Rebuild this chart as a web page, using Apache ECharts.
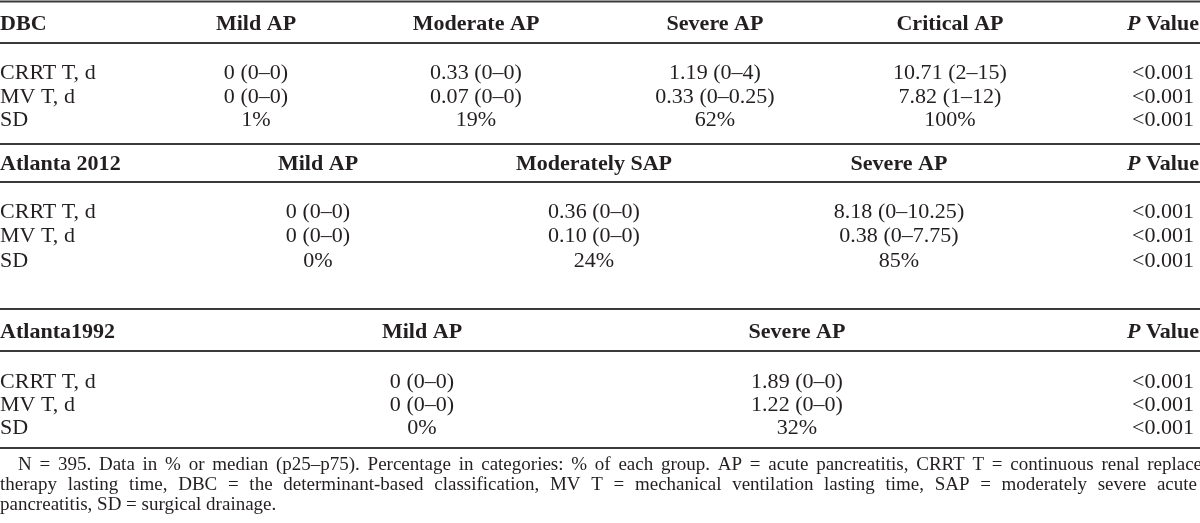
<!DOCTYPE html>
<html><head><meta charset="utf-8">
<script src="https://cdn.jsdelivr.net/npm/echarts@6/dist/echarts.min.js"></script>
<style>html,body{margin:0;padding:0;background:#fff}#c{width:1200px;height:523px}</style>
</head><body><div id="c"></div>
<script>
// ---------- DATA ----------
const dbcHeader = ['DBC', 'Mild AP', 'Moderate AP', 'Severe AP', 'Critical AP', 'P Value'];
const dbcCRRT = ['CRRT T, d', '0 (0–0)', '0.33 (0–0)', '1.19 (0–4)', '10.71 (2–15)', '<0.001'];
const dbcMV = ['MV T, d', '0 (0–0)', '0.07 (0–0)', '0.33 (0–0.25)', '7.82 (1–12)', '<0.001'];
const dbcSD = ['SD', '1%', '19%', '62%', '100%', '<0.001'];

const atl2012Header = ['Atlanta 2012', 'Mild AP', 'Moderately SAP', 'Severe AP', 'P Value'];
const atl2012CRRT = ['CRRT T, d', '0 (0–0)', '0.36 (0–0)', '8.18 (0–10.25)', '<0.001'];
const atl2012MV = ['MV T, d', '0 (0–0)', '0.10 (0–0)', '0.38 (0–7.75)', '<0.001'];
const atl2012SD = ['SD', '0%', '24%', '85%', '<0.001'];

const atl1992Header = ['Atlanta1992', 'Mild AP', 'Severe AP', 'P Value'];
const atl1992CRRT = ['CRRT T, d', '0 (0–0)', '1.89 (0–0)', '<0.001'];
const atl1992MV = ['MV T, d', '0 (0–0)', '1.22 (0–0)', '<0.001'];
const atl1992SD = ['SD', '0%', '32%', '<0.001'];

const footnoteLines = [
  'N = 395. Data in % or median (p25–p75). Percentage in categories: % of each group. AP = acute pancreatitis, CRRT T = continuous renal replace',
  'therapy lasting time, DBC = the determinant-based classification, MV T = mechanical ventilation lasting time, SAP = moderately severe acute',
  'pancreatitis, SD = surgical drainage.'
];

// ---------- LAYOUT (table geometry, in axis units = px) ----------
const W = 1200, H = 523;
const layout = {
  dbc: { cols: [0, 256, 476, 715, 950, 1163], headerY: 25, rowY: [73, 97, 120] },
  atl2012: { cols: [0, 318, 594, 899, 1163], headerY: 165, rowY: [212, 236, 261] },
  atl1992: { cols: [0, 422, 797, 1163], headerY: 333, rowY: [382, 405, 428] },
  rules: [1.5, 43, 144, 182, 309, 351, 448],
  foot: { y: [465, 485, 505], indent: 18, justify: [W + 2, W - 3, null] }
};
const FONT = '"Liberation Serif", "Times New Roman", serif';
const BODY = 21, FOOT = 19, BODY_SX = 1.05;
const TEXT_COLOR = '#231f20', RULE_COLOR = '#3a3a3a';

// ---------- BUILD CELLS ----------
const cells = [];
function addSection(header, rows, L) {
  header.forEach((t, i) => cells.push({ x: L.cols[i], y: L.headerY, text: t, bold: true, align: i === 0 ? 'left' : 'center', size: BODY, sx: BODY_SX }));
  rows.forEach((r, ri) => r.forEach((t, i) => cells.push({ x: L.cols[i], y: L.rowY[ri], text: t, bold: false, align: i === 0 ? 'left' : 'center', size: BODY, sx: BODY_SX })));
}
addSection(dbcHeader, [dbcCRRT, dbcMV, dbcSD], layout.dbc);
addSection(atl2012Header, [atl2012CRRT, atl2012MV, atl2012SD], layout.atl2012);
addSection(atl1992Header, [atl1992CRRT, atl1992MV, atl1992SD], layout.atl1992);

// footnote words, justified using measured widths
const mctx = document.createElement('canvas').getContext('2d');
mctx.font = FOOT + 'px ' + FONT;
footnoteLines.forEach((line, li) => {
  const x0 = li === 0 ? layout.foot.indent : 0;
  const y = layout.foot.y[li];
  const target = layout.foot.justify[li];
  if (!target) { cells.push({ x: x0, y, text: line, bold: false, align: 'left', size: FOOT, sx: 1 }); return; }
  const words = line.split(' ');
  const widths = words.map(w => mctx.measureText(w).width);
  const total = widths.reduce((a, b) => a + b, 0);
  const gap = (target - x0 - total) / (words.length - 1);
  let x = x0;
  words.forEach((w, i) => { cells.push({ x, y, text: w, bold: false, align: 'left', size: FOOT, sx: 1 }); x += widths[i] + gap; });
});

const rules = layout.rules.map(y => [0, y, W]);

// ---------- CHART ----------
const chart = echarts.init(document.getElementById('c'), null, { renderer: 'canvas' });
chart.setOption({
  animation: false,
  backgroundColor: '#fff',
  grid: { left: 0, right: 0, top: 0, bottom: 0 },
  xAxis: { type: 'value', min: 0, max: W, show: false },
  yAxis: { type: 'value', min: 0, max: H, inverse: true, show: false },
  series: [
    {
      type: 'custom', silent: true, clip: false,
      data: rules,
      renderItem: (params, api) => {
        const a = api.coord([api.value(0), api.value(1)]);
        const b = api.coord([api.value(2), api.value(1)]);
        return { type: 'line', shape: { x1: a[0], y1: a[1], x2: b[0], y2: b[1] }, style: { stroke: RULE_COLOR, lineWidth: 2 } };
      }
    },
    {
      type: 'custom', silent: true, clip: false,
      data: cells.map(c => [c.x, c.y]),
      renderItem: (params, api) => {
        const c = cells[params.dataIndex];
        const p = api.coord([api.value(0), api.value(1)]);
        const font = (c.bold ? 'bold ' : '') + c.size + 'px ' + FONT;
        const style = { text: c.text, font, fill: TEXT_COLOR, align: c.align, verticalAlign: 'middle' };
        if (c.text === 'P Value') {
          style.text = '{i|P} Value';
          style.rich = { i: { fontStyle: 'italic', fontWeight: 'bold', fontSize: c.size, fontFamily: FONT, fill: TEXT_COLOR } };
          style.fontWeight = 'bold'; style.fontSize = c.size; style.fontFamily = FONT;
        }
        let x = p[0];
        // keep right-hand centred columns inside the page after horizontal scaling
        return { type: 'text', x: x, y: p[1], scaleX: c.sx, style };
      }
    }
  ]
});
</script></body></html>
